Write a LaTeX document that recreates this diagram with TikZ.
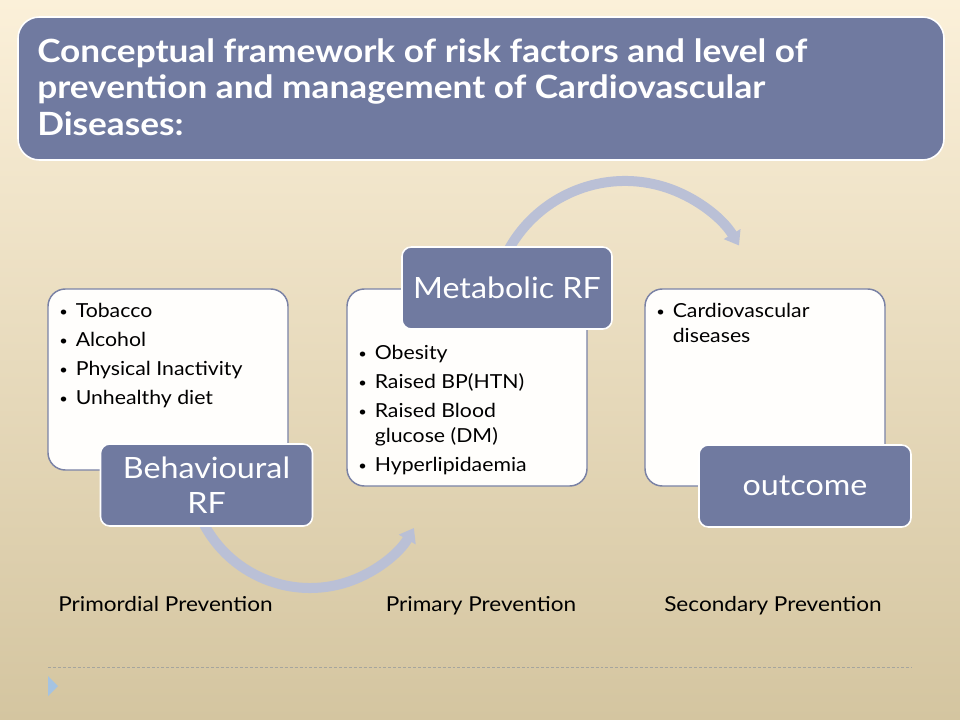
\documentclass[tikz,border=0pt]{standalone}
\usepackage{fontspec}
\setmainfont{Lato}[FakeStretch=1.1]
\usetikzlibrary{arrows.meta}
\definecolor{bgtop}{RGB}{251,240,217}
\definecolor{bgbot}{RGB}{212,197,160}
\definecolor{slate}{RGB}{112,122,160}
\definecolor{edgec}{RGB}{122,130,165}
\definecolor{arrowc}{RGB}{186,192,214}
\definecolor{whitec}{RGB}{255,254,252}
\definecolor{dashc}{RGB}{165,165,158}
\definecolor{tric}{RGB}{165,195,225}
\tikzset{
  whitebox/.style={draw=edgec, line width=1.1pt, fill=whitec, rounded corners=13pt, minimum width=180pt, inner sep=0pt},
  slatebox/.style={draw=white, line width=1.2pt, fill=slate, rounded corners=7pt, minimum width=159pt, minimum height=61.5pt, inner sep=0pt, text=white, align=center, font=\fontsize{22}{26.5}\selectfont},
  bigarrow/.style={draw=arrowc, line width=7.5pt, -{Triangle[width=14pt,length=10pt]}},
  bullets/.style={anchor=north west, inner sep=0pt, align=left, font=\fontsize{14.5}{21.75}\selectfont},
  prevlabel/.style={inner sep=0pt, anchor=base, font=\fontsize{15.4}{18}\selectfont}
}
\newcommand{\bl}{\raisebox{1pt}{\fontsize{10}{10}\selectfont\textbullet}}
\begin{document}
\begin{tikzpicture}[x=0.75pt,y=-0.75pt]
\useasboundingbox (0,0) rectangle (960,720);
\shade[top color=bgtop, bottom color=bgbot] (0,0) rectangle (960,720);
% title
\node[draw=white, line width=1.2pt, fill=slate, rounded corners=16pt, minimum width=694.5pt, minimum height=107.25pt, inner sep=0pt] (title) at (481,88.5) {};
\node[anchor=north west, inner sep=0pt, align=left, text=white, font=\fontsize{24}{27.4}\selectfont\bfseries] (titletext) at (37,38)
  {Conceptual framework of risk factors and level of\\prevention and management of Cardiovascular\\Diseases:};
% arrows (centres)
\coordinate (c1) at (310,468);
\coordinate (c2) at (625,314);
\draw[bigarrow] ([shift={(200:90pt)}]c1) arc[start angle=200, end angle=330, radius=90pt];
\draw[bigarrow] ([shift={(160:99.75pt)}]c2) arc[start angle=160, end angle=31, radius=99.75pt];
% white boxes
\node[whitebox, minimum height=135.75pt] (left) at (168,379.5) {};
\node[whitebox, minimum height=147.75pt] (mid) at (467,387.5) {};
\node[whitebox, minimum height=147.75pt] (right) at (765,387.5) {};
% slate boxes
\node[slatebox] (behav) at (206.5,485) {Behavioural\\RF};
\node[slatebox, minimum width=157.5pt] (metab) at (507,288) {Metabolic RF};
\node[slatebox] (outc) at (805,486) {outcome};
% bullet lists
\node[bullets] (ltext) at (59,297) {\begin{tabular}{@{}l@{\hspace{6pt}}l@{}}
\bl & Tobacco\\ \bl & Alcohol\\ \bl & Physical Inactivity\\ \bl & Unhealthy diet\end{tabular}};
\node[bullets] (mtext) at (358,339) {\begin{tabular}{@{}l@{\hspace{6pt}}l@{}}
\bl & Obesity\\ \bl & Raised BP(HTN)\\ \bl & Raised Blood\\[-3pt] & glucose (DM)\\ \bl & Hyperlipidaemia\end{tabular}};
\node[bullets] (rtext) at (656,297) {\begin{tabular}{@{}l@{\hspace{6pt}}l@{}}
\bl & Cardiovascular\\[-3pt] & diseases\end{tabular}};
% prevention labels
\node[prevlabel] (p1) at (165.5,611) {Primordial Prevention};
\node[prevlabel] (p2) at (481,611) {Primary Prevention};
\node[prevlabel] (p3) at (773,611) {Secondary Prevention};
% footer
\coordinate (d1) at (48,667);
\coordinate (d2) at (912,667);
\draw[dashc, line width=0.6pt, dash pattern=on 2.2pt off 1.5pt] (d1) -- (d2);
\fill[tric] (48,676) -- (58,686) -- (48,696) -- cycle;
\end{tikzpicture}
\end{document}
